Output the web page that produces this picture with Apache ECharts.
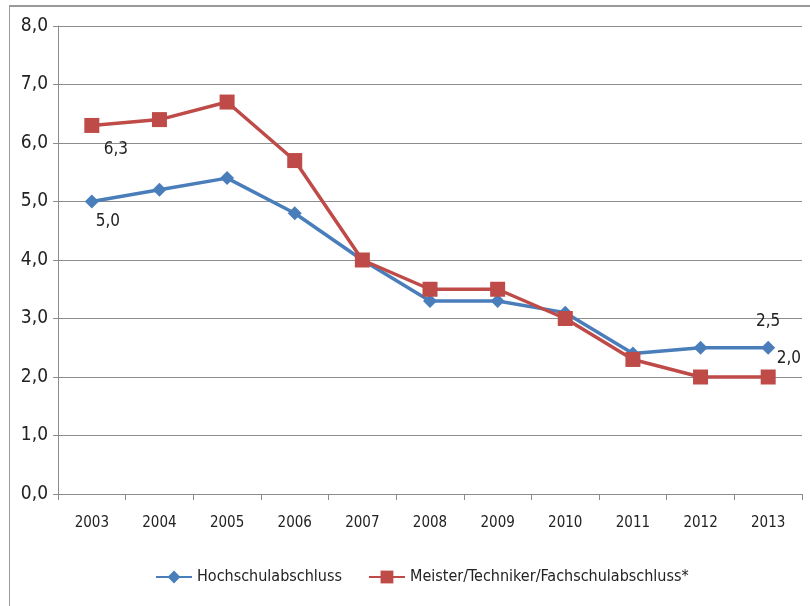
<!DOCTYPE html>
<html>
<head>
<meta charset="utf-8">
<script src="https://cdn.jsdelivr.net/npm/echarts@6/dist/echarts.min.js"></script>
<style>
  html, body { margin: 0; padding: 0; background: #fff; }
  #frame { position: absolute; left: 9px; top: 5px; width: 810px; height: 620px; border-left: 1px solid #9a9a9a; border-top: 2px solid #9a9a9a; }
  #chart { position: absolute; left: 0; top: 0; width: 810px; height: 606px; }
</style>
</head>
<body>
<div id="frame"></div>
<div id="chart"></div>
<script>
const years = ['2003', '2004', '2005', '2006', '2007', '2008', '2009', '2010', '2011', '2012', '2013'];
const hochschul = [5.0, 5.2, 5.4, 4.8, 4.0, 3.3, 3.3, 3.1, 2.4, 2.5, 2.5];
const meister = [6.3, 6.4, 6.7, 5.7, 4.0, 3.5, 3.5, 3.0, 2.3, 2.0, 2.0];
const seriesNames = ['Hochschulabschluss', 'Meister/Techniker/Fachschulabschluss*'];

const FONT = "'DejaVu Sans Condensed', 'Liberation Sans Narrow', sans-serif";
const fmt = v => v.toFixed(1).replace('.', ',');

// label only the first and last point of a series
function withEndLabels(values, firstPos, lastPos) {
  return values.map((v, i) => {
    if (i === 0) return { value: v, label: Object.assign({ show: true }, firstPos) };
    if (i === values.length - 1) return { value: v, label: Object.assign({ show: true }, lastPos) };
    return v;
  });
}

const chart = echarts.init(document.getElementById('chart'), null, { renderer: 'canvas' });
chart.setOption({
  backgroundColor: 'transparent',
  animation: false,
  textStyle: { fontFamily: FONT },
  grid: { left: 58, right: 8, top: 26, bottom: 112, containLabel: false },
  legend: {
    bottom: 16,
    left: 150,
    itemWidth: 36,
    itemHeight: 16,
    itemGap: 26,
    textStyle: { fontFamily: FONT, fontSize: 16, color: '#222' },
    data: seriesNames
  },
  xAxis: {
    type: 'category',
    data: years,
    boundaryGap: true,
    axisLine: { lineStyle: { color: '#8c8c8c', width: 1 } },
    axisTick: { show: true, length: 6, inside: false, lineStyle: { color: '#8c8c8c' } },
    axisLabel: { fontFamily: FONT, fontSize: 15, color: '#222', margin: 22 }
  },
  yAxis: {
    type: 'value',
    min: 0,
    max: 8,
    interval: 1,
    axisLine: { show: true, lineStyle: { color: '#8c8c8c' } },
    axisTick: { show: true, length: 5, lineStyle: { color: '#8c8c8c' } },
    splitLine: { lineStyle: { color: '#8c8c8c', width: 1 } },
    axisLabel: { fontFamily: FONT, fontSize: 19, color: '#222', margin: 10, formatter: v => fmt(v) }
  },
  series: [
    {
      name: seriesNames[0],
      type: 'line',
      data: withEndLabels(hochschul, { position: 'bottom', offset: [16, 0] }, { position: 'top', offset: [0, -6] }),
      symbol: 'diamond',
      symbolSize: 14,
      lineStyle: { color: '#4a7ebb', width: 3.5 },
      itemStyle: { color: '#4a7ebb' },
      label: { show: false, fontFamily: FONT, fontSize: 17, color: '#222', formatter: p => fmt(p.value) },
      z: 2
    },
    {
      name: seriesNames[1],
      type: 'line',
      data: withEndLabels(meister, { position: 'bottom', offset: [24, 3] }, { position: 'right', offset: [-4, -18] }),
      symbol: 'rect',
      symbolSize: 15,
      lineStyle: { color: '#be4b48', width: 3.5 },
      itemStyle: { color: '#be4b48' },
      label: { show: false, fontFamily: FONT, fontSize: 17, color: '#222', formatter: p => fmt(p.value) },
      z: 3
    }
  ]
});
</script>
</body>
</html>
